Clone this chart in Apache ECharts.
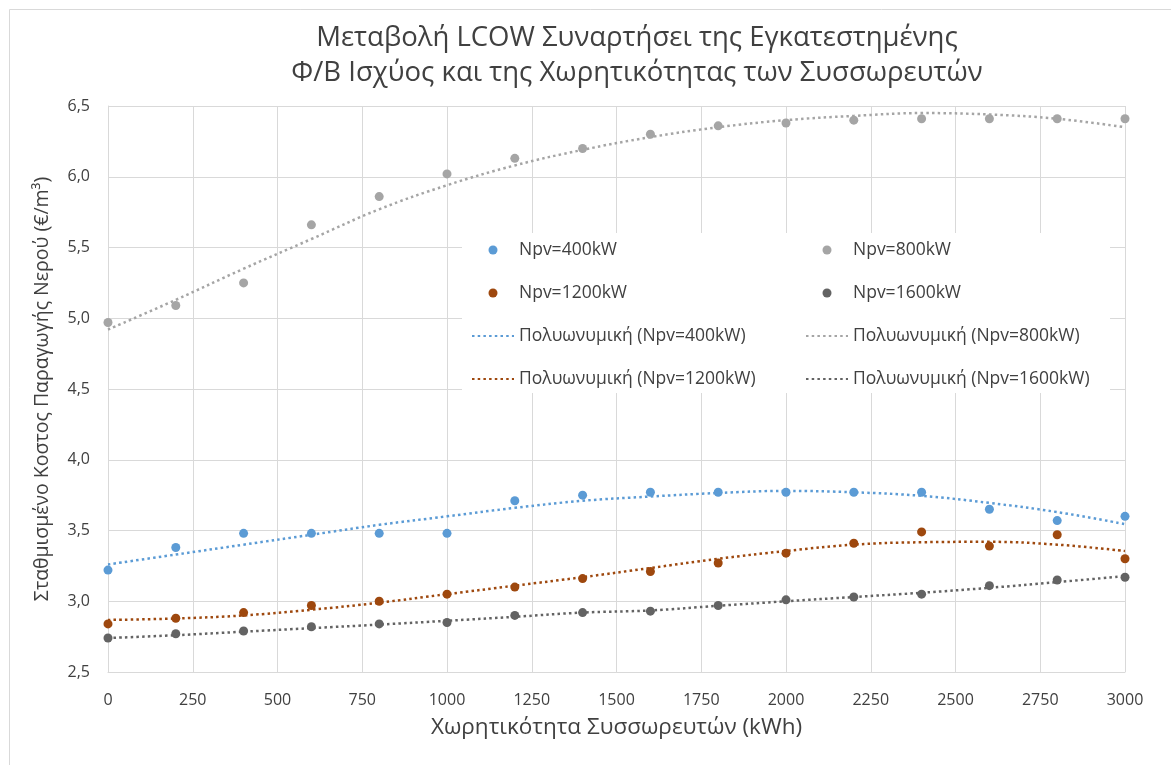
<!DOCTYPE html>
<html>
<head>
<meta charset="utf-8">
<script src="https://cdn.jsdelivr.net/npm/echarts@6/dist/echarts.min.js"></script>
<style>
html,body{margin:0;padding:0;background:#fff;}
#chart{width:1171px;height:765px;}
</style>
</head>
<body>
<div id="chart"></div>
<script>
const titleLines = ['Μεταβολή LCOW Συναρτήσει της Εγκατεστημένης', 'Φ/Β Ισχύος και της Χωρητικότητας των Συσσωρευτών'];
const xAxisName = 'Χωρητικότητα Συσσωρευτών (kWh)';
const yAxisName = 'Σταθμισμένο Κοστος Παραγωγής Νερού (€/m³)';

const capacity = [0, 200, 400, 600, 800, 1000, 1200, 1400, 1600, 1800, 2000, 2200, 2400, 2600, 2800, 3000];

const seriesNames = ['Npv=400kW', 'Npv=800kW', 'Npv=1200kW', 'Npv=1600kW'];
const trendNames = ['Πολυωνυμική (Npv=400kW)', 'Πολυωνυμική (Npv=800kW)', 'Πολυωνυμική (Npv=1200kW)', 'Πολυωνυμική (Npv=1600kW)'];
const colors = ['#5B9BD5', '#A5A5A5', '#9E480E', '#636363'];

const npv400  = [3.22, 3.38, 3.48, 3.48, 3.48, 3.48, 3.71, 3.75, 3.77, 3.77, 3.77, 3.77, 3.77, 3.65, 3.57, 3.60];
const npv800  = [4.97, 5.09, 5.25, 5.66, 5.86, 6.02, 6.13, 6.20, 6.30, 6.36, 6.38, 6.40, 6.41, 6.41, 6.41, 6.41];
const npv1200 = [2.84, 2.88, 2.92, 2.97, 3.00, 3.05, 3.10, 3.16, 3.21, 3.27, 3.34, 3.41, 3.49, 3.39, 3.47, 3.30];
const npv1600 = [2.74, 2.77, 2.79, 2.82, 2.84, 2.85, 2.90, 2.92, 2.93, 2.97, 3.01, 3.03, 3.05, 3.11, 3.15, 3.17];

// trendline values at the same capacities
const trend400  = [3.26, 3.33, 3.40, 3.47, 3.54, 3.60, 3.66, 3.71, 3.74, 3.765, 3.78, 3.77, 3.745, 3.695, 3.63, 3.545];
const trend800  = [4.92, 5.13, 5.35, 5.56, 5.77, 5.94, 6.08, 6.19, 6.28, 6.35, 6.40, 6.43, 6.45, 6.44, 6.41, 6.35];
const trend1200 = [2.868, 2.878, 2.90, 2.94, 2.99, 3.05, 3.11, 3.17, 3.235, 3.30, 3.355, 3.40, 3.417, 3.42, 3.40, 3.355];
const trend1600 = [2.74, 2.76, 2.785, 2.81, 2.835, 2.862, 2.89, 2.92, 2.935, 2.968, 3.00, 3.03, 3.06, 3.095, 3.135, 3.177];

const pointData = [npv400, npv800, npv1200, npv1600];
const trendData = [trend400, trend800, trend1200, trend1600];

const FONT = 'Open Sans';
const chart = echarts.init(document.getElementById('chart'));

const pair = arr => capacity.map((x, i) => [x, arr[i]]);

const series = [];
seriesNames.forEach((n, i) => {
  series.push({
    name: n, type: 'scatter', data: pair(pointData[i]),
    symbol: 'circle', symbolSize: 9, z: 3,
    itemStyle: { color: colors[i], opacity: 1 }
  });
});
trendNames.forEach((n, i) => {
  series.push({
    name: n, type: 'line', data: pair(trendData[i]),
    smooth: 0.4, showSymbol: false, z: 2,
    lineStyle: { color: colors[i], width: 2.5, type: [2.5, 3.2] },
    itemStyle: { color: colors[i] }
  });
});

const legendCommon = {
  orient: 'vertical', top: 240, padding: 0, itemGap: 23,
  itemWidth: 42, itemHeight: 9,
  textStyle: { fontFamily: FONT, fontSize: 17.5, color: '#404040', lineHeight: 20 }
};
const lineItem = name => ({ name: name, itemStyle: { opacity: 0 } });

chart.setOption({
  animation: false,
  backgroundColor: '#ffffff',
  graphic: [
    { type: 'rect', shape: { x: 9.5, y: 9.5, width: 1200, height: 800 },
      style: { fill: 'none', stroke: '#d9d9d9', lineWidth: 1 }, z: 0 },
    { type: 'rect', shape: { x: 462, y: 233, width: 648, height: 160 },
      style: { fill: '#ffffff' }, z: 1 },
    { type: 'text', x: 637, y: 21, z: 5,
      style: { text: titleLines.join('\n'), fontFamily: FONT, fontSize: 27.5, lineHeight: 35,
               fill: '#404040', align: 'center', verticalAlign: 'top' } }
  ],
  legend: [
    Object.assign({}, legendCommon, { left: 471, data: [seriesNames[0], seriesNames[2], lineItem(trendNames[0]), lineItem(trendNames[2])] }),
    Object.assign({}, legendCommon, { left: 805, data: [seriesNames[1], seriesNames[3], lineItem(trendNames[1]), lineItem(trendNames[3])] })
  ],
  grid: { left: 108, right: 46, top: 106, bottom: 93, containLabel: false },
  xAxis: {
    type: 'value', min: 0, max: 3000, interval: 250,
    name: xAxisName, nameLocation: 'middle', nameGap: 44,
    nameTextStyle: { fontFamily: FONT, fontSize: 22.5, color: '#404040' },
    axisLine: { show: true, lineStyle: { color: '#d9d9d9', width: 1 } },
    axisTick: { show: false },
    axisLabel: { fontFamily: FONT, fontSize: 16, color: '#404040', margin: 20,
                 formatter: v => String(v) },
    splitLine: { show: true, lineStyle: { color: '#d9d9d9', width: 1 } }
  },
  yAxis: {
    type: 'value', min: 2.5, max: 6.5, interval: 0.5,
    name: yAxisName, nameLocation: 'middle', nameGap: 56,
    nameTextStyle: { fontFamily: FONT, fontSize: 19.5, color: '#404040' },
    axisLine: { show: true, lineStyle: { color: '#d9d9d9', width: 1 } },
    axisTick: { show: false },
    axisLabel: { fontFamily: FONT, fontSize: 16, color: '#404040', margin: 18,
                 formatter: v => v.toFixed(1).replace('.', ',') },
    splitLine: { show: true, lineStyle: { color: '#d9d9d9', width: 1 } }
  },
  series: series
});
</script>
</body>
</html>
